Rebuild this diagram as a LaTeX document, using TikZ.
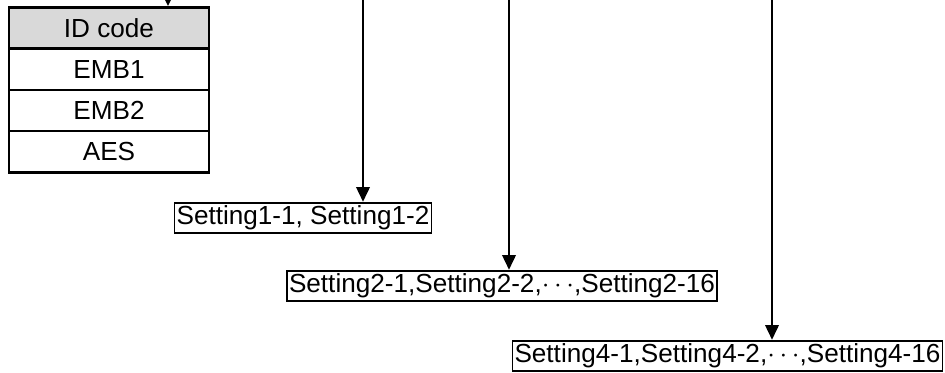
\documentclass[tikz,border=0pt]{standalone}
\usepackage{fontspec}
\setmainfont{Liberation Sans}
\usetikzlibrary{arrows.meta}

\begin{document}
\begin{tikzpicture}[x=0.75pt,y=-0.75pt,
    font=\fontsize{19.6}{23}\selectfont,
    cell/.style={draw,line width=1.8pt,minimum width=150pt,minimum height=31pt,inner sep=0pt},
    setbox/.style={draw,line width=1.3pt,inner xsep=1.5pt,inner ysep=0pt,minimum height=23pt},
    feed/.style={line width=1.8pt,-{Triangle[width=10pt,length=11pt]}}]
  \useasboundingbox (0,0) rectangle (945,373);
  % ID table
  \node[cell,fill={rgb,255:red,217;green,217;blue,217}] (idcode) at (109,28)    {ID code};
  \node[cell]                                           (emb1)   at (109,69.3)  {EMB1};
  \node[cell]                                           (emb2)   at (109,110.6) {EMB2};
  \node[cell]                                           (aes)    at (109,151.9) {AES};
  % setting lists
  \node[setbox] (set1) at (303,218)   {Setting1-1, Setting1-2};
  \node[setbox] (set2) at (502,286)   {Setting2-1,Setting2-2,$\cdots$,Setting2-16};
  \node[setbox] (set4) at (727.5,356) {Setting4-1,Setting4-2,$\cdots$,Setting4-16};
  % incoming lines from above
  \coordinate (in0) at (168,0);
  \coordinate (in1) at (363,0);
  \coordinate (in2) at (509,0);
  \coordinate (in4) at (772,0);
  \draw[feed] (in0) -- (in0 |- idcode.north);
  \draw[feed] (in1) -- (in1 |- set1.north);
  \draw[feed] (in2) -- (in2 |- set2.north);
  \draw[feed] (in4) -- (in4 |- set4.north);
\end{tikzpicture}
\end{document}
